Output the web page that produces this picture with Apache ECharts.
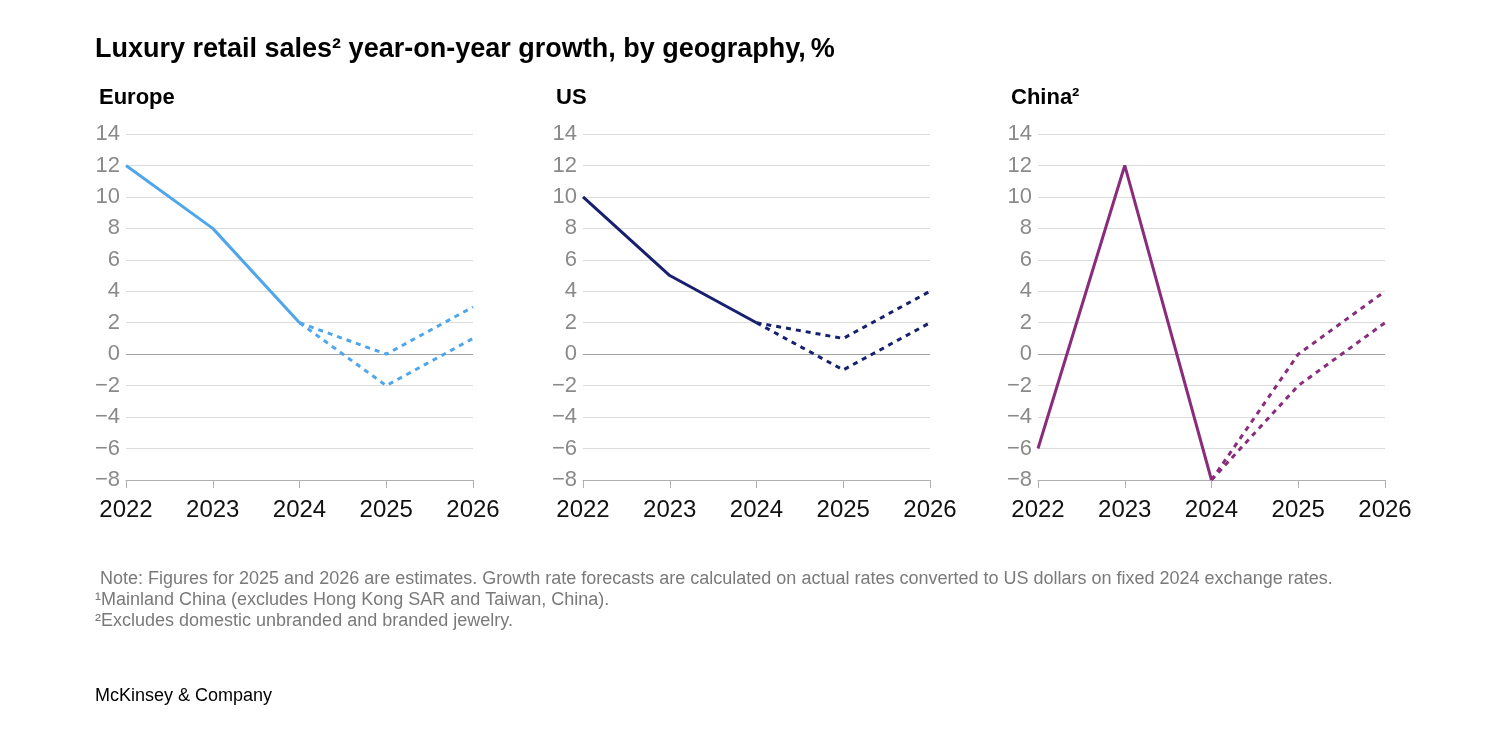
<!DOCTYPE html>
<html>
<head>
<meta charset="utf-8">
<script src="https://cdn.jsdelivr.net/npm/echarts@6/dist/echarts.min.js"></script>
<style>
  html, body { margin: 0; padding: 0; background: #fff; }
  #echart { width: 1500px; height: 738px; }
</style>
</head>
<body>
<div id="echart"></div>
<script>
var years = ["2022", "2023", "2024", "2025", "2026"];
var yTicks = { min: -8, max: 14, step: 2 };

// actuals 2022-2024, then two forecast paths from 2024
var europeActual = [12, 8, 2, null, null];
var europeHigh = [null, null, 2, 0, 3];
var europeLow = [null, null, 2, -2, 1];

var usActual = [10, 5, 2, null, null];
var usHigh = [null, null, 2, 1, 4];
var usLow = [null, null, 2, -1, 2];

var chinaActual = [-6, 12, -8, null, null];
var chinaHigh = [null, null, -8, 0, 4];
var chinaLow = [null, null, -8, -2, 2];

var panelNames = ["Europe", "US", "China²"];
var panelColors = ["#4fa6ea", "#17206f", "#8a2c7c"];
var panelData = [
  [europeActual, europeHigh, europeLow],
  [usActual, usHigh, usLow],
  [chinaActual, chinaHigh, chinaLow],
];

var noteLines = [
  " Note: Figures for 2025 and 2026 are estimates. Growth rate forecasts are calculated on actual rates converted to US dollars on fixed 2024 exchange rates.",
  "¹Mainland China (excludes Hong Kong SAR and Taiwan, China).",
  "²Excludes domestic unbranded and branded jewelry.",
];

var font = "Liberation Sans, Arial, sans-serif";
var gridLefts = [126, 583, 1038];

var myChart = echarts.init(document.getElementById("echart"));

var grids = [], xAxes = [], yAxes = [], series = [], titles = [];

titles.push({
  left: 95, top: 36, padding: 0,
  text: "{b|Luxury retail sales² year-on-year growth, by geography,} {n|%}",
  textStyle: {
    rich: {
      b: { fontFamily: font, fontSize: 27, fontWeight: "bold", color: "#000" },
      n: { fontFamily: font, fontSize: 27, color: "#000" },
    },
  },
});

for (var i = 0; i < 3; i++) {
  grids.push({ left: gridLefts[i], width: 347, top: 134, height: 346 });
  titles.push({
    left: gridLefts[i] - 27, top: 87, padding: 0,
    text: panelNames[i],
    textStyle: { fontFamily: font, fontSize: 22, fontWeight: "bold", color: "#000" },
  });
  xAxes.push({
    gridIndex: i,
    type: "category",
    data: years,
    boundaryGap: false,
    axisLine: { onZero: false, lineStyle: { color: "#b0b0b0", width: 1 } },
    axisTick: { show: true, length: 8, lineStyle: { color: "#b0b0b0" } },
    axisLabel: { margin: 18, fontFamily: font, fontSize: 24, color: "#111" },
  });
  yAxes.push({
    gridIndex: i,
    type: "value",
    min: yTicks.min,
    max: yTicks.max,
    interval: yTicks.step,
    axisLine: { show: false },
    axisTick: { show: false },
    axisLabel: {
      margin: 6, fontFamily: font, fontSize: 22, color: "#8a8a8a",
      formatter: function (v) { return v < 0 ? "\u2212" + Math.abs(v) : String(v); },
    },
    splitLine: { lineStyle: { color: "#dcdcdc", width: 1 } },
  });
  var d = panelData[i];
  series.push({
    type: "line", xAxisIndex: i, yAxisIndex: i,
    data: d[0], symbol: "none", z: 3,
    lineStyle: { color: panelColors[i], width: 3 },
    markLine: {
      silent: true, symbol: "none", label: { show: false },
      lineStyle: { color: "#a3a3a3", width: 1, type: "solid" },
      data: [{ yAxis: 0 }],
      z: 1,
    },
  });
  for (var k = 1; k < 3; k++) {
    series.push({
      type: "line", xAxisIndex: i, yAxisIndex: i,
      data: d[k], symbol: "none", z: 3,
      lineStyle: { color: panelColors[i], width: 3, type: [5, 5] },
    });
  }
}

for (var n = 0; n < noteLines.length; n++) {
  titles.push({
    left: 95, top: 570 + n * 21, padding: 0,
    text: noteLines[n],
    textStyle: { fontFamily: font, fontSize: 18, fontWeight: "normal", color: "#7a7a7a" },
  });
}
titles.push({
  left: 95, top: 687, padding: 0,
  text: "McKinsey & Company",
  textStyle: { fontFamily: font, fontSize: 18, fontWeight: "normal", color: "#000" },
});

var option = {
  animation: false,
  backgroundColor: "#fff",
  title: titles,
  grid: grids,
  xAxis: xAxes,
  yAxis: yAxes,
  series: series,
};
myChart.setOption(option);
</script>
</body>
</html>
